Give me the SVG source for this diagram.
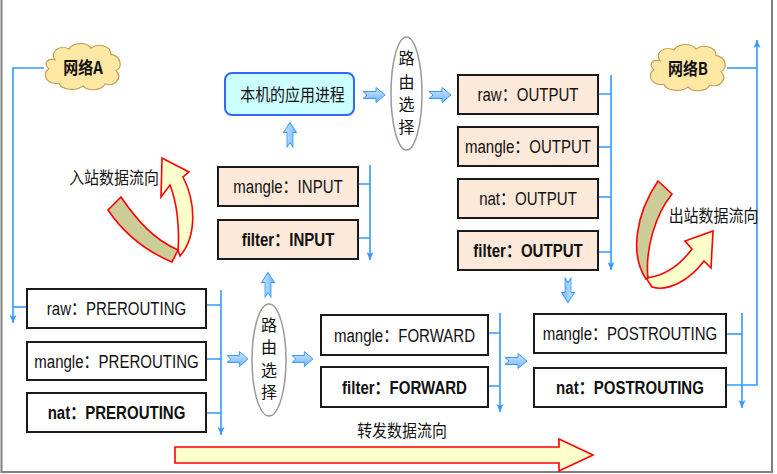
<svg xmlns="http://www.w3.org/2000/svg" width="777" height="474" viewBox="0 0 777 474">
<style>
.bx{stroke:#1a1a1a;stroke-width:2;fill:#ffffff}
.pe{fill:#fde9d9}
.t{font-family:"Liberation Sans","Noto Sans CJK SC",sans-serif;font-size:18px;fill:#111;text-anchor:middle}
.b{font-weight:bold}
.cn{font-family:"Noto Sans CJK SC","Liberation Sans",sans-serif;font-size:17px;fill:#111;text-anchor:middle}
.cv{font-family:"Noto Sans CJK SC",sans-serif;font-size:16px;fill:#111;text-anchor:middle}
.ln{fill:none;stroke:#3399ff;stroke-width:1.6}
.ba{fill:url(#bg);stroke:#3399ff;stroke-width:1}
.cl{fill:#ffe8a3;stroke:#bf9f55;stroke-width:1.2}
.el{fill:#fff;stroke:#999;stroke-width:1.5}
.rd{stroke:#ff0000;stroke-width:1.6;stroke-linejoin:miter}
</style>
<defs>
<linearGradient id="bg" x1="0" y1="0" x2="0" y2="1">
<stop offset="0" stop-color="#cfe6ff"/>
<stop offset="1" stop-color="#6fb5ff"/>
</linearGradient>
<marker id="ah" markerWidth="8" markerHeight="8" refX="8" refY="4" orient="auto" markerUnits="userSpaceOnUse">
<path d="M0,0.5 L8,4 L0,7.5 L2,4 Z" fill="#3399ff"/>
</marker>
<path id="barr" d="M0,-3.5 L13,-3.5 L13,-7.5 L22,0 L13,7.5 L13,3.5 L0,3.5 L4,0 Z"/>
<path id="cloud" d="M-28,-8 C-34,-18 -22,-25 -14,-20 C-10,-28 4,-28 8,-21 C14,-27 28,-24 28,-14 C38,-12 40,0 33,4 C40,12 32,22 22,19 C18,27 4,27 0,21 C-6,27 -22,26 -24,18 C-36,20 -42,8 -34,2 C-40,-4 -36,-10 -28,-8 Z"/>
</defs>
<rect x="0" y="0" width="777" height="474" fill="#fff"/>
<path d="M1.5,0 L1.5,472 L772,472 L772,0" fill="none" stroke="#808080" stroke-width="2"/>

<g id="connectors">
<path class="ln" d="M44,68 L13,68 L13,323" marker-end="url(#ah)"/>
<path class="ln" d="M13,307 L27,307"/>
<path class="ln" d="M221,290 L221,435" marker-end="url(#ah)"/>
<path class="ln" d="M206,305 L221,305 M206,359 L221,359 M206,413 L221,413"/>
<path class="ln" d="M370,165 L370,260" marker-end="url(#ah)"/>
<path class="ln" d="M358,184 L370,184 M358,238 L370,238"/>
<path class="ln" d="M500,313 L500,412" marker-end="url(#ah)"/>
<path class="ln" d="M488,333 L500,333 M488,386 L500,386"/>
<path class="ln" d="M611,75 L611,270" marker-end="url(#ah)"/>
<path class="ln" d="M598,94 L611,94 M598,147 L611,147 M598,197 L611,197 M598,252 L611,252"/>
<path class="ln" d="M742,313 L742,408" marker-end="url(#ah)"/>
<path class="ln" d="M726,334 L742,334"/>
<path class="ln" d="M726,385 L757,385 L757,40" marker-end="url(#ah)"/>
<path class="ln" d="M727,68 L757,68"/>
<use href="#barr" class="ba" transform="translate(363,95)"/>
<use href="#barr" class="ba" transform="translate(429,95)"/>
<use href="#barr" class="ba" transform="translate(227,359) scale(0.95,1)"/>
<use href="#barr" class="ba" transform="translate(292,359) scale(0.95,1)"/>
<use href="#barr" class="ba" transform="translate(505,361)"/>
<use href="#barr" class="ba" transform="translate(290,147) rotate(-90) scale(1.12,0.85)"/>
<use href="#barr" class="ba" transform="translate(268,297) rotate(-90) scale(1.12,0.85)"/>
<use href="#barr" class="ba" transform="translate(568,278) rotate(90) scale(1.12,0.85)"/>
</g>

<g id="netA">
<use href="#cloud" class="cl" transform="translate(83,67) scale(1,0.9)"/>
<text class="cn b" transform="translate(83,73.5) scale(0.88,1)">网络A</text>
</g>
<g id="netB">
<use href="#cloud" class="cl" transform="translate(688,68) scale(1,0.9)"/>
<text class="cn b" transform="translate(688,74.5) scale(0.88,1)">网络B</text>
</g>

<g id="app">
<rect x="225" y="73" width="129" height="42" rx="7" fill="#ccffff" stroke="#3366ff" stroke-width="2"/>
<text class="cn" transform="translate(292.5,100.5) scale(0.88,1)">本机的应用进程</text>
</g>

<g id="route1">
<ellipse class="el" cx="406.5" cy="93.5" rx="15.5" ry="56.5"/>
<text class="cv" x="406.5" y="64">路</text>
<text class="cv" x="406.5" y="88">由</text>
<text class="cv" x="406.5" y="110">选</text>
<text class="cv" x="406.5" y="133">择</text>
</g>
<g id="route2">
<ellipse class="el" cx="269" cy="360" rx="17" ry="56"/>
<text class="cv" x="269" y="331">路</text>
<text class="cv" x="269" y="353">由</text>
<text class="cv" x="269" y="376">选</text>
<text class="cv" x="269" y="398">择</text>
</g>

<g id="raw-pre"><rect class="bx" x="27" y="289" width="179" height="39"/><text class="t" transform="translate(116.5,315) scale(0.835,1)">raw：PREROUTING</text></g>
<g id="mangle-pre"><rect class="bx" x="27" y="342" width="179" height="38"/><text class="t" transform="translate(116.5,367.5) scale(0.835,1)">mangle：PREROUTING</text></g>
<g id="nat-pre"><rect class="bx" x="27" y="393" width="179" height="39"/><text class="t b" transform="translate(116.5,419) scale(0.835,1)">nat：PREROUTING</text></g>

<g id="mangle-in"><rect class="bx pe" x="218" y="167" width="140" height="39"/><text class="t" transform="translate(288,193) scale(0.835,1)">mangle：INPUT</text></g>
<g id="filter-in"><rect class="bx pe" x="218" y="220" width="140" height="39"/><text class="t b" transform="translate(288,246) scale(0.835,1)">filter：INPUT</text></g>

<g id="mangle-fwd"><rect class="bx" x="321" y="315" width="167" height="40"/><text class="t" transform="translate(404.5,341.5) scale(0.835,1)">mangle：FORWARD</text></g>
<g id="filter-fwd"><rect class="bx" x="321" y="367" width="167" height="40"/><text class="t b" transform="translate(404.5,393.5) scale(0.835,1)">filter：FORWARD</text></g>

<g id="raw-out"><rect class="bx pe" x="458" y="75" width="140" height="39"/><text class="t" transform="translate(528,101) scale(0.835,1)">raw：OUTPUT</text></g>
<g id="mangle-out"><rect class="bx pe" x="458" y="127" width="140" height="39"/><text class="t" transform="translate(528,153) scale(0.835,1)">mangle：OUTPUT</text></g>
<g id="nat-out"><rect class="bx pe" x="458" y="179" width="140" height="39"/><text class="t" transform="translate(528,205) scale(0.835,1)">nat：OUTPUT</text></g>
<g id="filter-out"><rect class="bx pe" x="458" y="231" width="140" height="39"/><text class="t b" transform="translate(528,257) scale(0.835,1)">filter：OUTPUT</text></g>

<g id="mangle-post"><rect class="bx" x="534" y="314" width="192" height="39"/><text class="t" transform="translate(630,340) scale(0.835,1)">mangle：POSTROUTING</text></g>
<g id="nat-post"><rect class="bx" x="534" y="368" width="192" height="39"/><text class="t b" transform="translate(630,394) scale(0.835,1)">nat：POSTROUTING</text></g>

<g id="inbound">
<path class="rd" fill="#ffffcc" d="M178,250 C180,225 176,200 170,185 L161,197 L162,158 L189,172 L183,177 C195,200 198,235 180,256 Z"/>
<path class="rd" fill="#cccc99" d="M108,210 L121,197 C138,222 155,240 178,250 L172,262 C148,252 125,235 108,210 Z"/>
<text class="cn" transform="translate(114,183.5) scale(0.88,1)">入站数据流向</text>
</g>

<g id="outbound">
<path class="rd" fill="#ffffcc" d="M646,278 C665,276 680,265 692,249 L685,241 L713,231 L711,268 L704,261 C690,280 668,292 652,287 Z"/>
<path class="rd" fill="#cccc99" d="M658,181 L672,194 C655,215 645,250 648,278 L646,279 C630,255 635,215 658,181 Z"/>
<text class="cn" transform="translate(713.5,221.5) scale(0.88,1)">出站数据流向</text>
</g>

<g id="forward">
<path class="rd" fill="#ffffcc" stroke-width="2" d="M175,447 L559,447 L559,439 L593,455 L559,471 L559,463 L175,463 Z"/>
<text class="cn" transform="translate(402,436.5) scale(0.88,1)">转发数据流向</text>
</g>
</svg>
